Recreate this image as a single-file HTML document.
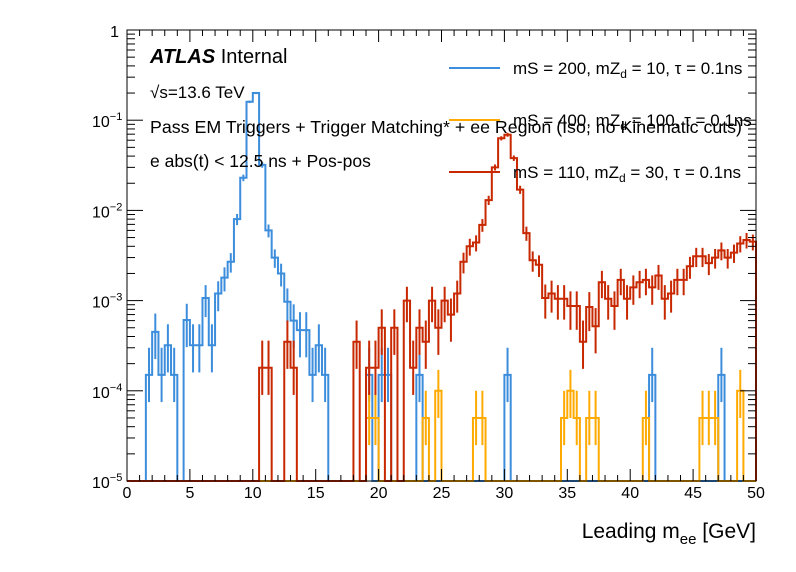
<!DOCTYPE html>
<html><head><meta charset="utf-8"><style>
html,body{margin:0;padding:0;background:#fff;}
svg{display:block;font-family:"Liberation Sans",sans-serif;}
</style></head><body>
<svg id="chart" width="796" height="572" viewBox="0 0 796 572" xmlns="http://www.w3.org/2000/svg">
<rect x="0" y="0" width="796" height="572" fill="#fff"/>
<g id="plot"></g>
<rect x="127" y="30" width="629" height="451" fill="none" stroke="#000" stroke-width="1"/>
<g id="axes"></g>
<text x="150" y="63" font-size="20" font-weight="bold" font-style="italic">ATLAS <tspan font-weight="normal" font-style="normal">Internal</tspan></text>
<text x="150" y="98" font-size="17">√s=13.6 TeV</text>
<text x="150" y="133" font-size="17.8">Pass EM Triggers + Trigger Matching* + ee Region (Iso, no Kinematic cuts)</text>
<text x="150" y="167" font-size="17.5">e abs(t) &lt; 12.5 ns + Pos-pos</text>
<g id="legend"></g>
<text x="756" y="538" font-size="21" text-anchor="end">Leading m<tspan font-size="15" dy="6">ee</tspan><tspan dy="-6"> [GeV]</tspan></text>
</svg>
<script>
const binEdges = {lo: 0, hi: 50, n: 100};
const seriesNames = ["mS = 200, mZd = 10, τ = 0.1ns", "mS = 400, mZd = 100, τ = 0.1ns", "mS = 110, mZd = 30, τ = 0.1ns"];
const xTicks = [0,5,10,15,20,25,30,35,40,45,50];
const yTickExps = [0,-1,-2,-3,-4,-5];
const blueVals = [
0,0,0,1.5e-4,4.5e-4,1.5e-4,3.2e-4,1.5e-4,0,6.1e-4,
3.2e-4,3.2e-4,1.07e-3,3.2e-4,1.2e-3,1.8e-3,2.7e-3,8e-3,2.3e-2,0.16,
0.2,3.2e-2,6e-3,3e-3,2e-3,9.7e-4,6e-4,4.7e-4,4.7e-4,1.5e-4,
3.2e-4,1.5e-4,0,0,0,0,0,0,1.5e-4,0,
1.5e-4,1.5e-4,0,0,0,0,1.5e-4,0,0,0,
0,0,0,0,0,0,0,0,0,0,
1.5e-4,0,0,0,0,0,0,0,0,0,
0,0,0,0,0,0,0,0,0,0,
0,0,0,1.5e-4,0,0,0,0,0,0,
0,0,0,0,1.5e-4,0,0,0,0,0];
const yellowVals = [
0,0,0,0,0,0,0,0,0,0,
0,0,0,0,0,0,0,0,0,0,
0,0,0,0,0,0,0,0,0,0,
0,0,0,0,0,0,0,0,5e-5,5e-5,
0,0,0,0,0,0,0,5e-5,0,1e-4,
0,0,0,0,0,5e-5,5e-5,0,0,0,
0,0,0,0,0,0,0,0,0,5e-5,
1e-4,5e-5,0,5e-5,5e-5,0,0,0,0,0,
0,0,5e-5,0,0,0,0,0,0,0,
0,5e-5,5e-5,5e-5,0,0,0,1e-4,0,0];
const redVals = [
0,0,0,0,0,0,0,0,0,0,
0,0,0,0,0,0,0,0,0,0,
0,1.8e-4,1.8e-4,0,0,3.5e-4,1.8e-4,0,0,0,
0,0,0,0,0,0,3.5e-4,0,1.8e-4,1.8e-4,
5e-4,0,5e-4,0,1e-3,1.8e-4,5e-4,3.5e-4,1e-3,5e-4,
1e-3,7e-4,1.2e-3,2.7e-3,4e-3,4.4e-3,6.9e-3,1.3e-2,3e-2,6.3e-2,
6.9e-2,3.8e-2,1.7e-2,5.6e-3,2.8e-3,2.5e-3,1.07e-3,1.2e-3,1.05e-3,1.05e-3,
8.7e-4,8.7e-4,3.5e-4,8.5e-4,5.2e-4,1.6e-3,1.05e-3,8.7e-4,1.7e-3,1.05e-3,
1.4e-3,1.6e-3,1.7e-3,1.4e-3,1.9e-3,1.05e-3,1.2e-3,1.7e-3,1.7e-3,2.4e-3,
3.1e-3,3.1e-3,2.6e-3,3e-3,3.6e-3,3e-3,3.4e-3,4.3e-3,4.7e-3,4.5e-3];
const unitWeights = [1.6e-4, 5e-5, 1.8e-4];

const NS = "http://www.w3.org/2000/svg";
const X0 = 127, X1 = 756, Y0 = 30, Y1 = 481, DEC = (Y1 - Y0) / 5;
function xs(v){ return X0 + (v - binEdges.lo) / (binEdges.hi - binEdges.lo) * (X1 - X0); }
function ys(v){ if (v <= 1e-5) return Y1; return Y0 + (-Math.log10(v)) * DEC; }
function mk(tag, attrs, parent){ const e = document.createElementNS(NS, tag); for (const k in attrs) e.setAttribute(k, attrs[k]); parent.appendChild(e); return e; }
const plot = document.getElementById('plot');
const axes = document.getElementById('axes');
const bw = (binEdges.hi - binEdges.lo) / binEdges.n;
const colors = ["#3c8ddc", "#ffaa00", "#c82800"];
const allVals = [blueVals, yellowVals, redVals];
const hnames = ["hist-ms200", "hist-ms400", "hist-ms110"];

allVals.forEach((vals, s) => {
  const g = mk('g', {}, plot);
  
  
  let d = "M" + xs(binEdges.lo) + "," + Y1;
  vals.forEach((v, i) => {
    const xl = xs(binEdges.lo + i * bw), xr = xs(binEdges.lo + (i + 1) * bw);
    const y = ys(v);
    d += " L" + xl + "," + y + " L" + xr + "," + y;
  });
  d += " L" + xs(binEdges.hi) + "," + Y1;
  const p = mk('path', {d: d, fill: "none", stroke: colors[s], "stroke-width": 2}, g);
  
  
  vals.forEach((v, i) => {
    if (v <= 0) return;
    const n = Math.max(1, v / unitWeights[s]);
    const r = 1 / Math.sqrt(n);
    const up = v * (1 + r), dn = v * Math.max(1 - r, 0.5);
    const xc = xs(binEdges.lo + (i + 0.5) * bw);
    const e = mk('line', {x1: xc, x2: xc, y1: ys(up), y2: Math.min(ys(dn), Y1), stroke: colors[s], "stroke-width": 2}, g);
    
    
  });
});

for (let v = 0; v <= 50; v += 1) {
  const x = xs(v), major = (v % 5 === 0), L = major ? 12 : 6;
  mk('line', {x1: x, x2: x, y1: Y1, y2: Y1 - L, stroke: "#000"}, axes);
  mk('line', {x1: x, x2: x, y1: Y0, y2: Y0 + L, stroke: "#000"}, axes);
}
xTicks.forEach(v => {
  const t = mk('text', {x: xs(v), y: 498, "font-size": 16, "text-anchor": "middle"}, axes);
  t.textContent = String(v);
  
  
});
for (let e = -5; e < 0; e++) {
  for (let m = 1; m <= 9; m++) {
    const y = ys(m * Math.pow(10, e)), L = m === 1 ? 16 : 8;
    mk('line', {x1: X0, x2: X0 + L, y1: y, y2: y, stroke: "#000"}, axes);
    mk('line', {x1: X1, x2: X1 - L, y1: y, y2: y, stroke: "#000"}, axes);
  }
}
mk('line', {x1: X0, x2: X0 + 16, y1: Y0, y2: Y0, stroke: "#000"}, axes);
yTickExps.forEach(e => {
  const y = ys(Math.pow(10, e));
  const t = mk('text', {x: 119, y: y + 7, "font-size": 16, "text-anchor": "end"}, axes);
  
  
  if (e === 0) { t.textContent = "1"; }
  else {
    t.setAttribute('x', 92);
    t.setAttribute('text-anchor', 'start');
    t.textContent = "10";
    const s = mk('tspan', {"font-size": 11, dy: -7}, t);
    s.textContent = "\u2212" + String(-e);
  }
});

const legend = document.getElementById('legend');
const legY = [68, 120, 172];
seriesNames.forEach((nm, s) => {
  const g = mk('g', {}, legend);
  
  
  mk('line', {x1: 449, x2: 500, y1: legY[s], y2: legY[s], stroke: colors[s], "stroke-width": 2}, g);
  mk('line', {x1: 474.5, x2: 474.5, y1: legY[s] - 1, y2: legY[s] + 1, stroke: colors[s], "stroke-width": 2}, g);
  const t = mk('text', {x: 513, y: legY[s] + 6, "font-size": 17}, g);
  const parts = nm.split("mZd");
  t.appendChild(document.createTextNode(parts[0] + "mZ"));
  const sub = mk('tspan', {"font-size": 12, dy: 4}, t);
  sub.textContent = "d";
  const rest = mk('tspan', {dy: -4}, t);
  rest.textContent = parts[1];
});
</script>
</body></html>
